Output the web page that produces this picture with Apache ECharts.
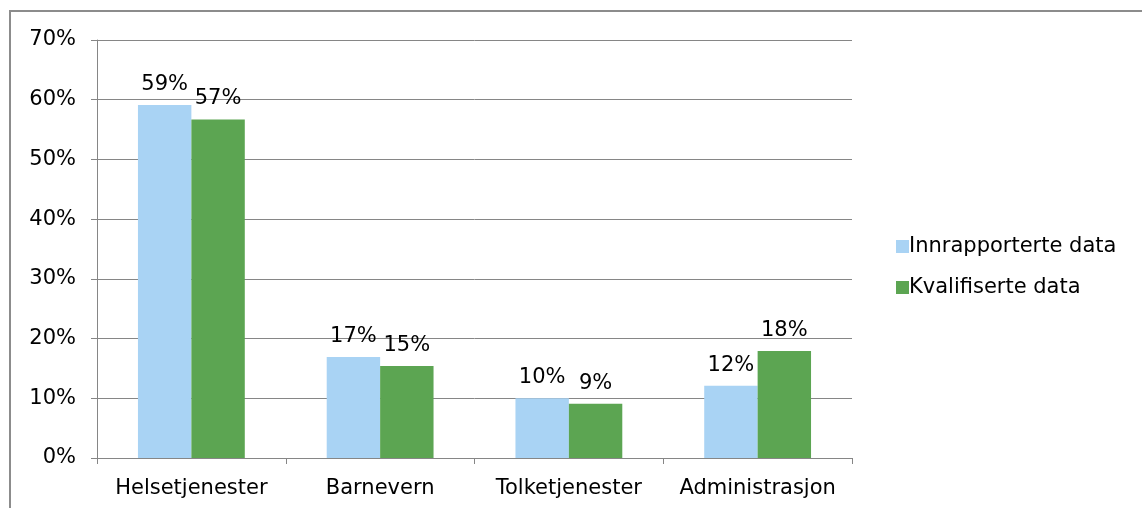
<!DOCTYPE html>
<html>
<head>
<meta charset="utf-8">
<script src="https://cdn.jsdelivr.net/npm/echarts@6/dist/echarts.min.js"></script>
<style>
  html, body { margin: 0; padding: 0; background: #fff; }
  #chart { width: 1142px; height: 508px; }
</style>
</head>
<body>
<div id="chart"></div>
<script>
// kategorier og verdier (prosent)
var categories = ['Helsetjenester', 'Barnevern', 'Tolketjenester', 'Administrasjon'];
var innrapporterte = [59.1, 16.9, 10.0, 12.1];
var kvalifiserte = [56.7, 15.4, 9.1, 17.9];
var seriesNames = ['Innrapporterte data', 'Kvalifiserte data'];

var chart = echarts.init(document.getElementById('chart'));

var fontFam = '"DejaVu Sans", Verdana, sans-serif';

var labelOpt = {
    show: true,
    position: 'top',
    distance: 10,
    color: '#000',
    fontFamily: fontFam,
    fontSize: 21,
    formatter: function (p) {
        return Math.round(p.value) + '%';
    }
};

var option = {
    backgroundColor: '#fff',
    animation: false,
    graphic: [{
        type: 'rect',
        shape: { x: 10, y: 11, width: 1400, height: 700 },
        style: { fill: 'none', stroke: '#8c8c8c', lineWidth: 2 },
        silent: true
    }],
    legend: {
        orient: 'vertical',
        left: 891,
        top: 231,
        itemWidth: 13,
        itemHeight: 13,
        itemGap: 20,
        icon: 'rect',
        textStyle: { fontFamily: fontFam, fontSize: 21, color: '#000', padding: [0, 0, 0, -5] },
        data: seriesNames
    },
    grid: {
        left: 97,
        right: 290,
        top: 40,
        bottom: 50,
        containLabel: false
    },
    xAxis: {
        type: 'category',
        data: categories,
        axisLine: { lineStyle: { color: '#868686', width: 1 } },
        axisTick: { show: true, interval: 0, length: 6, lineStyle: { color: '#868686' } },
        axisLabel: { interval: 0, hideOverlap: false, color: '#000', fontFamily: fontFam, fontSize: 21, margin: 20 }
    },
    yAxis: {
        type: 'value',
        min: 0,
        max: 70,
        interval: 10,
        axisLine: { show: true, lineStyle: { color: '#868686', width: 1 } },
        axisTick: { show: true, length: 6, lineStyle: { color: '#868686' } },
        axisLabel: { color: '#000', fontFamily: fontFam, fontSize: 21, margin: 21, formatter: '{value}%' },
        splitLine: { lineStyle: { color: '#868686', width: 1 } }
    },
    series: [{
        name: seriesNames[0],
        type: 'bar',
        data: innrapporterte,
        barWidth: '28.3%',
        barGap: '0%',
        itemStyle: { color: '#a9d3f4' },
        label: labelOpt
    }, {
        name: seriesNames[1],
        type: 'bar',
        data: kvalifiserte,
        barWidth: '28.3%',
        itemStyle: { color: '#5ca552' },
        label: labelOpt
    }]
};

chart.setOption(option);

window.addEventListener('resize', function () {
    chart.resize();
});
</script>
</body>
</html>
